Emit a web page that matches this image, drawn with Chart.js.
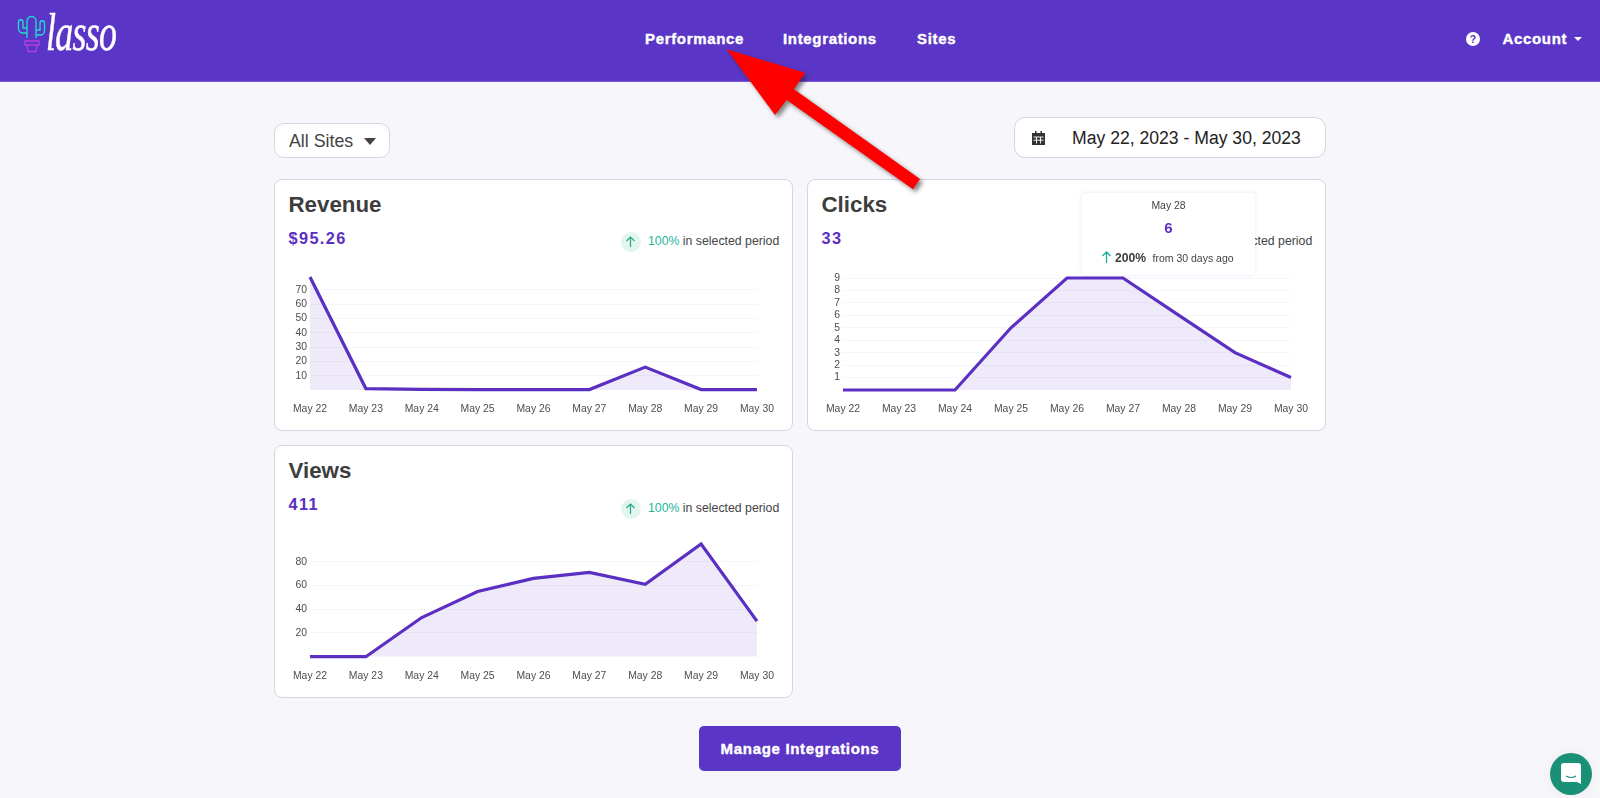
<!DOCTYPE html>
<html>
<head>
<meta charset="utf-8">
<title>Lasso Performance</title>
<script src="https://cdn.jsdelivr.net/npm/chart.js@4/dist/chart.umd.min.js"></script>
<style>
  html, body { margin: 0; padding: 0; width: 1600px; height: 798px; overflow: hidden; background: #f6f6fb; font-family: "Liberation Sans", Arial, sans-serif; }
  .abs, .card, .card-text, canvas { position: absolute; }
  .abs { white-space: nowrap; }
  #header { left: 0; top: 0; width: 1600px; height: 81px; background: #5b35c5; border-bottom: 1px solid #7a5ad6; }
  .nav { color: #fff; font-weight: bold; font-size: 15px; line-height: 20px; top: 28.500px; letter-spacing: 0.66px; -webkit-text-stroke: 0.4px #fff; }
  .card { background: #fff; border: 1px solid #d5d6e0; border-radius: 8px; box-sizing: border-box; }
  .title { left: 13.5px; top: 9px; font-size: 22.3px; line-height: 32px; font-weight: bold; color: #3d3d3d; }
  .total { left: 13.5px; top: 48px; font-size: 16.3px; line-height: 20px; font-weight: bold; color: #5a2fc2; letter-spacing: 1.4px; }
  .badge { left: 346px; top: 52px; width: 20px; height: 20px; border-radius: 50%; background: #e3f6ed; }
  .period { left: 374px; top: 53px; font-size: 12.3px; line-height: 18px; color: #444; }
  .period b { font-weight: normal; color: #27b5a0; }
  .pill { background: #fff; border: 1px solid #d5d6e0; box-sizing: border-box; }
  #tip { left: 1082px; top: 193px; width: 173px; height: 82px; background: #fff; border-radius: 4px; box-shadow: 0 0 4px rgba(90, 60, 190, 0.14); z-index: 5; }
  #tip div { position: absolute; white-space: nowrap; }
</style>
</head>
<body>
<div class="abs" id="header"></div>

<!-- logo -->
<svg class="abs" style="left:16px;top:14px" width="32" height="40" viewBox="0 0 32 40" fill="none">
  <path d="M11 24V7a4.5 4.5 0 0 1 9 0v17M11 19H7a4.5 4.5 0 0 1-4.500-4.500V8a2.200 2.200 0 0 1 4.500 0v6h4M20 21h4a4.500 4.500 0 0 0 4.500-4.500V9a2.200 2.200 0 0 0-4.500 0v7h-4" stroke="#1fe0d0" stroke-width="1.300"/>
  <path d="M9 27h14v4h-14zM11 31h10l-1 6.500h-8z" stroke="#b23fe0" stroke-width="1.300"/>
</svg>
<div class="abs" style="left:46px;top:7px;font:italic 52px/52px 'Liberation Serif',serif;color:#fff;letter-spacing:-1px;transform:scaleX(0.69);transform-origin:0 0;-webkit-text-stroke:0.500px #fff">lasso</div>

<div class="abs nav" style="left:645px">Performance</div>
<div class="abs nav" style="left:783px">Integrations</div>
<div class="abs nav" style="left:917px">Sites</div>
<div class="abs" style="left:1466px;top:32px;width:14px;height:14px;border-radius:50%;background:#fff;color:#5b35c5;font:bold 10.500px/14px 'Liberation Sans';text-align:center">?</div>
<div class="abs nav" style="left:1502.500px">Account</div>
<svg class="abs" style="left:1574px;top:37px" width="8" height="4"><path d="M0 0h8l-4 4z" fill="#fff"/></svg>

<!-- filters -->
<div class="abs pill" style="left:274px;top:123px;width:116px;height:35px;border-radius:10px"></div>
<div class="abs" style="left:289px;top:130px;font-size:17.800px;line-height:22px;color:#444">All Sites</div>
<svg class="abs" style="left:364px;top:138px" width="12" height="7"><path d="M0 0h12l-6 7z" fill="#444"/></svg>

<div class="abs pill" style="left:1014px;top:117px;width:312px;height:41px;border-radius:11px"></div>
<svg class="abs" style="left:1032px;top:131px" width="13" height="14"><path d="M0 2h13v12h-13z M3 0h1.500v3h-1.500z M8.500 0h1.500v3h-1.500z" fill="#333"/><path d="M1.500 6h10M4.500 6v6.500M8.500 6v6.500M1.500 9.200h10" stroke="#fff" stroke-width="0.900"/></svg>
<div class="abs" style="left:1072px;top:127px;font-size:17.600px;line-height:22px;color:#222">May 22, 2023 - May 30, 2023</div>

<!-- cards -->
<div class="card" style="left:274px;top:179px;width:519px;height:252px">
  <div class="abs title">Revenue</div><div class="abs total">$95.26</div>
</div>
<div class="card" style="left:807px;top:179px;width:519px;height:252px">
  <div class="abs title">Clicks</div><div class="abs total">33</div>
</div>
<div class="card" style="left:274px;top:445px;width:519px;height:253px">
  <div class="abs title">Views</div><div class="abs total">411</div>
</div>

<div class="abs badge" style="left:620.500px;top:231.500px"></div>
<svg class="abs" style="left:625px;top:236px" width="11" height="12"><path d="M5.500 11V1M1.500 5l4-4 4 4" fill="none" stroke="#27a88e" stroke-width="1.200"/></svg>
<div class="abs period" style="left:648px;top:232px"><b>100%</b> in selected period</div>

<div class="abs badge" style="left:620.500px;top:498.500px"></div>
<svg class="abs" style="left:625px;top:503px" width="11" height="12"><path d="M5.500 11V1M1.500 5l4-4 4 4" fill="none" stroke="#27a88e" stroke-width="1.200"/></svg>
<div class="abs period" style="left:648px;top:498.500px"><b>100%</b> in selected period</div>

<div class="abs period" style="left:1181px;top:232px"><b>100%</b> in selected period</div>

<canvas id="revenueChart" width="505" height="150" style="left:274px;top:267px"></canvas>
<canvas id="clicksChart" width="506" height="149" style="left:806.500px;top:268px"></canvas>
<canvas id="viewsChart" width="505" height="150" style="left:274px;top:534px"></canvas>

<!-- hover tooltip from the original page -->
<div class="abs" id="tip">
  <div style="left:0;width:173px;top:6px;text-align:center;font-size:10.400px;line-height:14px;color:#444">May 28</div>
  <div style="left:0;width:173px;top:25px;text-align:center;font-size:15px;line-height:20px;font-weight:bold;color:#5a2fc2">6</div>
  <svg style="position:absolute;left:19px;top:58px" width="11" height="12"><path d="M5.500 12V1M1.500 5l4-4 4 4" fill="none" stroke="#1fae94" stroke-width="1.300"/></svg>
  <div style="left:33px;top:57.500px;font-size:12.200px;line-height:14px;font-weight:bold;color:#3d3d3d">200%</div>
  <div style="left:70.500px;top:58px;font-size:10.500px;line-height:14px;color:#444">from 30 days ago</div>
</div>

<!-- manage button -->
<div class="abs" style="left:699px;top:726px;width:202px;height:45px;border-radius:5px;background:#5b35c5;color:#fff;font-weight:bold;font-size:15px;line-height:45px;text-align:center;letter-spacing:0.680px;-webkit-text-stroke:0.400px #fff">Manage Integrations</div>

<!-- chat launcher -->
<div class="abs" style="left:1550px;top:753px;width:42px;height:42px;border-radius:50%;background:#1a9077;box-shadow:0 0 14px rgba(0,0,0,0.05)"></div>
<svg class="abs" style="left:1561px;top:763px" width="20" height="22"><path d="M3 0h14a3 3 0 0 1 3 3v18l-4-2H3a3 3 0 0 1-3-3V3a3 3 0 0 1 3-3z" fill="#fff"/><path d="M5 13q5 3 10 0" fill="none" stroke="#1a9077" stroke-width="1.100"/></svg>

<!-- red annotation arrow -->
<svg class="abs" style="left:0;top:0;z-index:8;filter:drop-shadow(3px 3px 2px rgba(40,40,40,0.55))" width="1000" height="220">
  <polygon points="726.700,49.300 805,72.700 794,89.300 920,179 913,189.300 786.700,100 775,115" fill="#fe0000"/>
</svg>

<script>
var days = ['May 22', 'May 23', 'May 24', 'May 25', 'May 26', 'May 27', 'May 28', 'May 29', 'May 30'];
var revenueValues = [79, 1, 0.5, 0.3, 0.3, 0.3, 16, 0.3, 0.3];
var clicksValues = [0, 0, 0, 5, 9, 9, 6, 3, 1];
var viewsValues = [0, 0, 33, 55, 66, 71, 61, 95, 30];

var lineColor = '#5a2fc2';
var fillColor = 'rgba(90, 47, 194, 0.1)';
var gridColor = '#f6f6fa';
var tickColor = '#4d4d4d';

function drawChart(id, values, step, xHeight) {
  return new Chart(document.getElementById(id), {
    type: 'line',
    data: {
      labels: days,
      datasets: [{
        data: values,
        borderColor: lineColor,
        borderWidth: 3.2,
        backgroundColor: fillColor,
        fill: 'origin',
        tension: 0,
        pointRadius: 0,
        clip: false
      }]
    },
    options: {
      responsive: false,
      animation: false,
      layout: {padding: {top: 10, right: 22, left: 0, bottom: 0}},
      plugins: {legend: {display: false}, tooltip: {enabled: false}},
      scales: {
        x: {
          offset: false,
          afterFit: function (scale) { scale.height = xHeight; },
          grid: {display: false},
          border: {display: false},
          ticks: {
            autoSkip: false,
            maxRotation: 0,
            padding: 5,
            color: tickColor,
            font: {family: '"Liberation Sans"', size: 10.4}
          }
        },
        y: {
          min: 0,
          max: Math.max.apply(null, values),
          afterFit: function (scale) { scale.width = 36; },
          border: {display: false},
          grid: {
            drawTicks: false,
            color: function (ctx) { return ctx.tick.value === 0 ? 'transparent' : gridColor; }
          },
          ticks: {
            stepSize: step,
            autoSkip: false,
            includeBounds: false,
            padding: 3,
            color: tickColor,
            font: {family: '"Liberation Sans"', size: 10.4},
            callback: function (value) { return value === 0 ? '' : value; }
          }
        }
      }
    }
  });
}

drawChart('revenueChart', revenueValues, 10, 27);
drawChart('clicksChart', clicksValues, 1, 27);
drawChart('viewsChart', viewsValues, 20, 27.3);
</script>
</body>
</html>
